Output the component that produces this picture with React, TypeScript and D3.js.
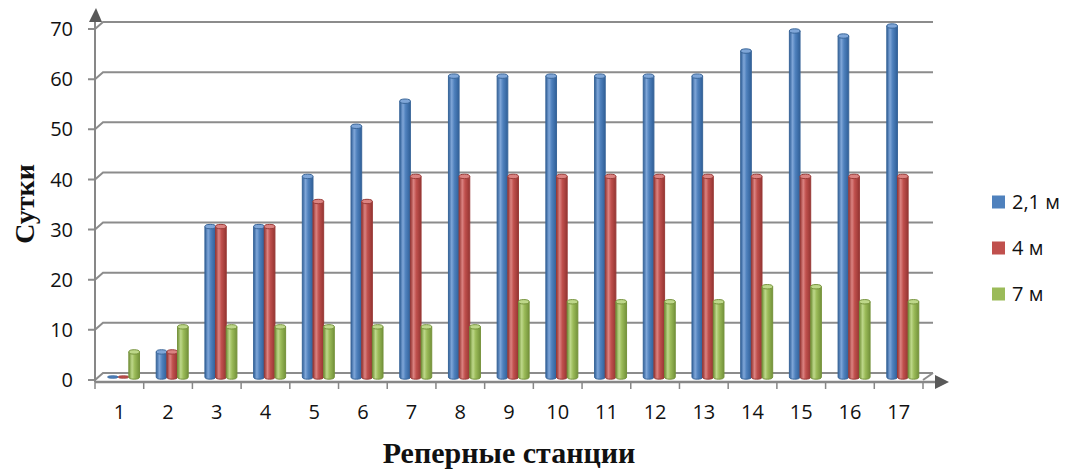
import React from "react";
import * as d3 from "d3";

const categories = ["1","2","3","4","5","6","7","8","9","10","11","12","13","14","15","16","17"];
const seriesNames = ["2,1 м", "4 м", "7 м"];
const s21 = [0, 5, 30, 30, 40, 50, 55, 60, 60, 60, 60, 60, 60, 65, 69, 68, 70];
const s4 = [0, 5, 30, 30, 35, 35, 40, 40, 40, 40, 40, 40, 40, 40, 40, 40, 40];
const s7 = [5, 10, 10, 10, 10, 10, 10, 10, 15, 15, 15, 15, 15, 18, 18, 15, 15];
const yTicks = [0, 10, 20, 30, 40, 50, 60, 70];

const colors = [
  { base: "#4F81BD", light: "#7FA6D8", dark: "#2F5F98", stroke: "#3A6699" },
  { base: "#C0504D", light: "#DB8381", dark: "#953532", stroke: "#9A3B38" },
  { base: "#9BBB59", light: "#BED88A", dark: "#73923A", stroke: "#76933C" },
];

export default function App() {
  const W = 1072, H = 472;
  const x0 = 95, x1 = 923;
  const dx = 8, dy = -7;
  const yFront = d3.scaleLinear().domain([0, 70]).range([380, 29]);
  const yBar = (v: number) => yFront(v) - 3;
  const xBand = d3.scaleBand<string>().domain(categories).range([x0, x1]);
  const xSub = d3.scaleBand<string>().domain(seriesNames).range([12.5, 44.5]);
  const data = [s21, s4, s7];
  const axisCol = "#878787";
  const gridCol = "#8c8c8c";
  const rx = xSub.bandwidth() / 2;
  const ry = 2.2;

  return (
    <svg width={W} height={H} style={{ position: "absolute", left: 0, top: 0, background: "#fff" }}
      fontFamily="'Open Sans', 'Noto Sans', sans-serif">
      <defs>
        {colors.map((c, i) => (
          <linearGradient key={i} id={`g${i}`} x1="0" x2="1" y1="0" y2="0">
            <stop offset="0%" stopColor={c.dark} />
            <stop offset="30%" stopColor={c.light} />
            <stop offset="55%" stopColor={c.base} />
            <stop offset="100%" stopColor={c.dark} />
          </linearGradient>
        ))}
      </defs>
      {yTicks.map((t) => {
        const y = yFront(t);
        return (
          <g key={t}>
            <path d={`M${x0 - 7},${y} L${x0},${y} L${x0 + dx},${y + dy} L${x1 + 10},${y + dy}`}
              fill="none" stroke={gridCol} strokeWidth={2} />
            <text x={73} y={y} dy="0.36em" textAnchor="end" fontSize={20} fill="#111">{t}</text>
          </g>
        );
      })}
      <path d={`M${x1},${yFront(0)} L${x1 + 10},${yFront(0) + dy}`} fill="none" stroke={gridCol} strokeWidth={2} />
      <line x1={x0} x2={x0} y1={yFront(0) + 2} y2={20} stroke={axisCol} strokeWidth={2} />
      <path d={`M${x0 + 1},8 L${x0 + 7},22 L${x0 - 6},22 Z`} fill="#595959" />
      <line x1={x0} x2={x1 + 14} y1={382} y2={382} stroke={axisCol} strokeWidth={2.5} />
      <path d={`M949,382 L935,375 L935,389 Z`} fill="#595959" />
      {categories.map((c) => (
        <line key={"t" + c} x1={xBand(c)!} x2={xBand(c)!} y1={382} y2={389} stroke={axisCol} strokeWidth={1.5} />
      ))}
      <line x1={x1} x2={x1} y1={382} y2={389} stroke={axisCol} strokeWidth={1.5} />
      {categories.map((c, i) => (
        <g key={"b" + c}>
          {data.map((arr, s) => {
            const v = arr[i];
            const bx = xBand(c)! + xSub(seriesNames[s])!;
            const bw = xSub.bandwidth();
            const yt = yBar(v);
            const yb = yBar(0);
            const col = colors[s];
            if (v === 0) {
              return (
                <ellipse key={s} cx={bx + rx} cy={yb} rx={rx} ry={1.3} fill={col.base} stroke={col.stroke} strokeWidth={0.8} />
              );
            }
            return (
              <g key={s}>
                <path d={`M${bx},${yt} L${bx},${yb} A${rx},${ry} 0 0 0 ${bx + bw},${yb} L${bx + bw},${yt} Z`}
                  fill={`url(#g${s})`} stroke={col.stroke} strokeWidth={1} />
                <ellipse cx={bx + rx} cy={yt} rx={rx} ry={ry} fill={col.light} stroke={col.stroke} strokeWidth={1} />
              </g>
            );
          })}
        </g>
      ))}
      {categories.map((c) => (
        <text key={"l" + c} x={xBand(c)! + xBand.bandwidth() / 2} y={412} dy="0.36em" textAnchor="middle" fontSize={20} fill="#111">{c}</text>
      ))}
      <text x={509} y={463} textAnchor="middle" fontFamily="'Liberation Serif', 'Times New Roman', serif" fontWeight="bold" fontSize={30} fill="#111">Реперные станции</text>
      <text transform="translate(34,204) rotate(-90)" textAnchor="middle" fontFamily="'Liberation Serif', 'Times New Roman', serif" fontWeight="bold" fontSize={28} fill="#111">Сутки</text>
      {seriesNames.map((n, s) => {
        const ly = 202 + s * 46;
        return (
          <g key={n}>
            <rect x={992} y={ly - 6.5} width={13} height={13} fill={colors[s].base} />
            <text x={1012} y={ly} dy="0.36em" fontSize={20} fill="#111">{n}</text>
          </g>
        );
      })}
    </svg>
  );
}
